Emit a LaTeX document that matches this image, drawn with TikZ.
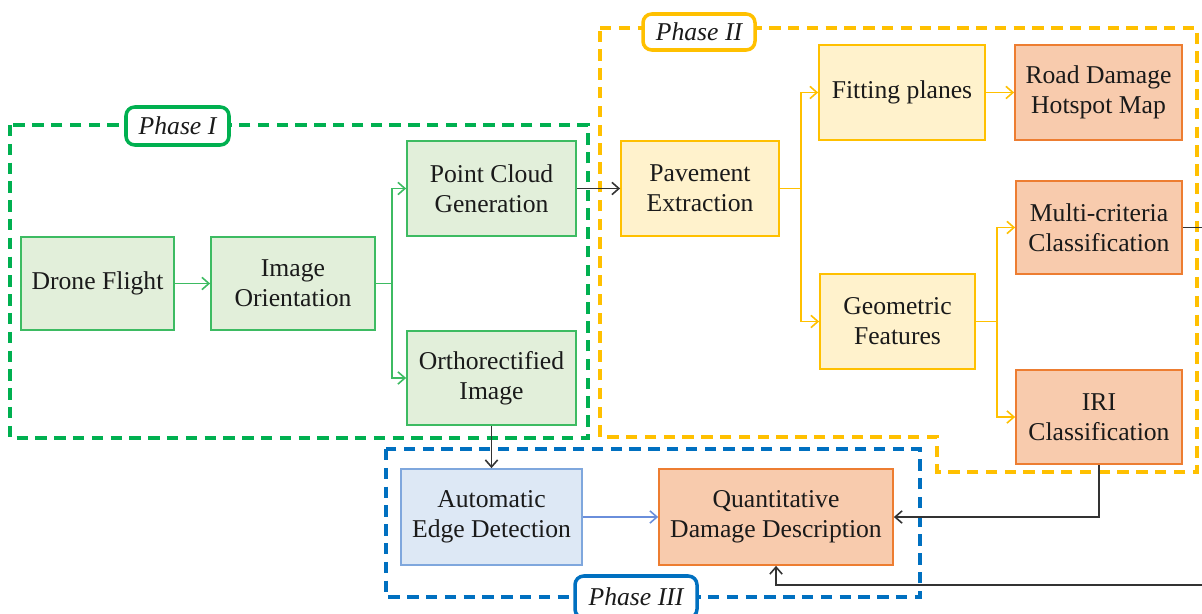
\documentclass[tikz,border=0pt]{standalone}
\usepackage{fontspec}
\setmainfont{Liberation Serif}
\usetikzlibrary{arrows.meta}
\definecolor{gfill}{HTML}{E2EFDA}
\definecolor{gline}{HTML}{3DBB62}
\definecolor{gdashc}{HTML}{00B050}
\definecolor{yfill}{HTML}{FFF2CC}
\definecolor{yline}{HTML}{FFC000}
\definecolor{ofill}{HTML}{F8CBAD}
\definecolor{oline}{HTML}{ED7D31}
\definecolor{bfill}{HTML}{DDE8F5}
\definecolor{bline}{HTML}{7FA7DD}
\definecolor{bdashc}{HTML}{0070C0}
\definecolor{barrc}{HTML}{6A8EDB}
\definecolor{karr}{HTML}{333333}
\definecolor{txt}{HTML}{1A1A1A}
\begin{document}
\begin{tikzpicture}[x=0.02cm,y=-0.02cm,
  sz/.style 2 args={minimum width=#1*0.02cm,minimum height=#2*0.02cm},
  base/.style={inner sep=0pt,align=center,text=txt,line width=1pt,font=\fontsize{14.6}{17}\selectfont},
  gbox/.style={base,fill=gfill,draw=gline},
  ybox/.style={base,fill=yfill,draw=yline},
  obox/.style={base,fill=ofill,draw=oline},
  bbox/.style={base,fill=bfill,draw=bline},
  phase/.style={inner sep=0pt,fill=white,rounded corners=5pt,line width=2pt,text=txt,font=\fontsize{14.6}{17}\selectfont\itshape},
  pdash/.style={line width=2.1pt,dash pattern=on 6.5pt off 4.2pt},
  tip/.style={-{Straight Barb[length=4pt,width=7pt]}},
  garrow/.style={tip,draw=gline,line width=0.9pt},
  yarrow/.style={tip,draw=yline,line width=0.9pt},
  barrow/.style={tip,draw=barrc,line width=0.9pt},
  karrow/.style={tip,draw=karr,line width=0.9pt}
]
\useasboundingbox (0,0) rectangle (1202,614);
% phase regions
\draw[pdash,draw=gdashc] (10,125) rectangle (588,438);
\draw[pdash,draw=yline] (600,28) -- (1197,28) -- (1197,472) -- (937,472) -- (937,437) -- (600,437) -- cycle;
\draw[pdash,draw=bdashc] (386,449) rectangle (920,597);
\node[phase,draw=gdashc,sz={103}{38}] (p1) at (177.5,126) {Phase I};
\node[phase,draw=yline,sz={112}{36}] (p2) at (699,32) {Phase II};
\node[phase,draw=bdashc,sz={122}{42}] (p3) at (636,597) {Phase III};
% boxes
\node[gbox,sz={153}{93}] (drone) at (97.5,283.5) {Drone Flight};
\node[gbox,sz={164}{93}] (orient) at (293,283.5) {Image\\Orientation};
\node[gbox,sz={169}{95}] (pcg) at (491.5,188.5) {Point Cloud\\Generation};
\node[gbox,sz={169}{94}] (ortho) at (491.5,378) {Orthorectified\\Image};
\node[ybox,sz={158}{95}] (pave) at (700,188.5) {Pavement\\Extraction};
\node[ybox,sz={166}{95}] (fit) at (902,92.5) {Fitting planes};
\node[obox,sz={167}{95}] (road) at (1098.5,92.5) {Road Damage\\Hotspot Map};
\node[obox,sz={166}{93}] (multi) at (1099,227.5) {Multi-criteria\\Classification};
\node[ybox,sz={155}{95}] (geo) at (897.5,321.5) {Geometric\\Features};
\node[obox,sz={166}{94}] (iri) at (1099,417) {IRI\\Classification};
\node[bbox,sz={181}{96}] (auto) at (491.5,517) {Automatic\\Edge Detection};
\node[obox,sz={234}{96}] (quant) at (776,517) {Quantitative\\Damage Description};
% connectors
\draw[garrow] (drone.east) -- (orient.west);
\draw[garrow] (orient.east) -- ++(16,0) |- (pcg.west);
\draw[garrow] (orient.east) -- ++(16,0) |- (ortho.west);
\draw[karrow] (pcg.east) -- (pave.west);
\draw[karrow] (ortho.south) -- (auto.north);
\draw[yarrow] (pave.east) -- ++(21,0) |- (fit.west);
\draw[yarrow] (pave.east) -- ++(21,0) |- (geo.west);
\draw[yarrow] (fit.east) -- (road.west);
\draw[yarrow] (geo.east) -- ++(21,0) |- (multi.west);
\draw[yarrow] (geo.east) -- ++(21,0) |- (iri.west);
\draw[barrow] (auto.east) -- (quant.west);
\draw[karrow] (iri.south) |- (quant.east);
\coordinate (rc) at (1215,585);
\draw[karrow] (multi.east) -| (rc) -| (quant.south);
\end{tikzpicture}
\end{document}
